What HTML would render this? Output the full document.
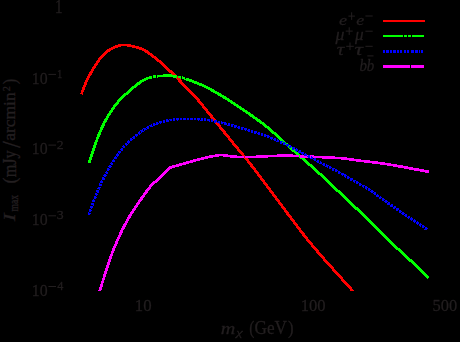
<!DOCTYPE html>
<html><head><meta charset="utf-8"><style>
html,body{margin:0;padding:0;background:#000;}
body{width:460px;height:342px;overflow:hidden;}
svg{display:block;}
text{font-family:"Liberation Serif",serif;fill:#231f20;stroke:#231f20;stroke-width:0.3px;}
</style></head><body>
<svg width="460" height="342" viewBox="0 0 460 342">
<rect width="460" height="342" fill="#000"/>
<g shape-rendering="crispEdges" stroke="none">
<path fill="#ff0000" d="M118 44h13v1h-13zM115 45h20v1h-20zM113 46h8v1h-8zM127 46h12v1h-12zM111 47h7v1h-7zM132 47h10v1h-10zM109 48h6v1h-6zM136 48h8v1h-8zM107 49h6v1h-6zM139 49h7v1h-7zM106 50h5v1h-5zM142 50h6v1h-6zM105 51h5v1h-5zM144 51h5v1h-5zM104 52h4v1h-4zM145 52h5v1h-5zM103 53h4v1h-4zM147 53h5v1h-5zM102 54h4v1h-4zM148 54h5v1h-5zM101 55h4v1h-4zM150 55h4v1h-4zM100 56h4v1h-4zM151 56h5v1h-5zM99 57h4v1h-4zM152 57h5v1h-5zM98 58h4v1h-4zM154 58h4v1h-4zM98 59h3v1h-3zM155 59h4v1h-4zM97 60h3v1h-3zM156 60h5v1h-5zM96 61h4v1h-4zM157 61h5v1h-5zM96 62h3v1h-3zM159 62h4v1h-4zM95 63h3v1h-3zM160 63h4v1h-4zM94 64h4v1h-4zM161 64h4v1h-4zM94 65h3v1h-3zM162 65h4v1h-4zM93 66h3v1h-3zM163 66h4v1h-4zM92 67h4v1h-4zM164 67h4v1h-4zM92 68h3v1h-3zM165 68h4v1h-4zM91 69h3v1h-3zM166 69h4v1h-4zM91 70h3v1h-3zM167 70h5v1h-5zM90 71h3v1h-3zM168 71h5v1h-5zM89 72h4v1h-4zM169 72h5v1h-5zM89 73h3v1h-3zM171 73h4v1h-4zM88 74h4v1h-4zM172 74h4v1h-4zM88 75h3v1h-3zM173 75h4v1h-4zM87 76h3v1h-3zM174 76h4v1h-4zM87 77h3v1h-3zM175 77h4v1h-4zM86 78h3v1h-3zM176 78h4v1h-4zM86 79h3v1h-3zM177 79h4v1h-4zM85 80h3v1h-3zM178 80h4v1h-4zM85 81h3v1h-3zM178 81h4v1h-4zM84 82h3v1h-3zM179 82h4v1h-4zM84 83h3v1h-3zM180 83h4v1h-4zM84 84h3v1h-3zM181 84h4v1h-4zM83 85h3v1h-3zM182 85h4v1h-4zM83 86h3v1h-3zM183 86h4v1h-4zM82 87h3v1h-3zM184 87h4v1h-4zM82 88h3v1h-3zM185 88h4v1h-4zM82 89h3v1h-3zM186 89h4v1h-4zM81 90h3v1h-3zM187 90h4v1h-4zM81 91h3v1h-3zM188 91h4v1h-4zM81 92h2v1h-2zM189 92h4v1h-4zM80 93h3v1h-3zM190 93h4v1h-4zM82 94h1v1h-1zM191 94h4v1h-4zM192 95h4v1h-4zM193 96h4v1h-4zM194 97h4v1h-4zM195 98h4v1h-4zM196 99h4v1h-4zM197 100h3v1h-3zM197 101h4v1h-4zM198 102h4v1h-4zM199 103h4v1h-4zM200 104h4v1h-4zM201 105h3v1h-3zM202 106h3v1h-3zM202 107h4v1h-4zM203 108h4v1h-4zM204 109h4v1h-4zM205 110h3v1h-3zM206 111h3v1h-3zM206 112h4v1h-4zM207 113h4v1h-4zM208 114h4v1h-4zM209 115h4v1h-4zM210 116h3v1h-3zM210 117h4v1h-4zM211 118h4v1h-4zM212 119h4v1h-4zM213 120h4v1h-4zM214 121h3v1h-3zM215 122h3v1h-3zM215 123h4v1h-4zM216 124h4v1h-4zM217 125h4v1h-4zM218 126h3v1h-3zM219 127h3v1h-3zM219 128h4v1h-4zM220 129h4v1h-4zM221 130h4v1h-4zM222 131h4v1h-4zM223 132h3v1h-3zM223 133h4v1h-4zM224 134h4v1h-4zM225 135h4v1h-4zM226 136h4v1h-4zM227 137h3v1h-3zM228 138h3v1h-3zM228 139h4v1h-4zM229 140h4v1h-4zM230 141h4v1h-4zM231 142h3v1h-3zM232 143h3v1h-3zM232 144h4v1h-4zM233 145h4v1h-4zM234 146h4v1h-4zM235 147h4v1h-4zM236 148h3v1h-3zM237 149h3v1h-3zM237 150h4v1h-4zM238 151h4v1h-4zM239 152h4v1h-4zM240 153h4v1h-4zM241 154h3v1h-3zM242 155h3v1h-3zM242 156h4v1h-4zM243 157h4v1h-4zM244 158h4v1h-4zM245 159h4v1h-4zM246 160h3v1h-3zM247 161h3v1h-3zM247 162h4v1h-4zM248 163h4v1h-4zM249 164h4v1h-4zM250 165h3v1h-3zM250 166h4v1h-4zM251 167h4v1h-4zM252 168h4v1h-4zM253 169h3v1h-3zM254 170h3v1h-3zM254 171h4v1h-4zM255 172h4v1h-4zM256 173h3v1h-3zM257 174h3v1h-3zM257 175h4v1h-4zM258 176h4v1h-4zM259 177h3v1h-3zM260 178h3v1h-3zM260 179h4v1h-4zM261 180h4v1h-4zM262 181h3v1h-3zM263 182h3v1h-3zM263 183h4v1h-4zM264 184h4v1h-4zM265 185h3v1h-3zM266 186h3v1h-3zM266 187h4v1h-4zM267 188h4v1h-4zM268 189h3v1h-3zM269 190h3v1h-3zM269 191h4v1h-4zM270 192h4v1h-4zM271 193h3v1h-3zM272 194h3v1h-3zM272 195h4v1h-4zM273 196h4v1h-4zM274 197h3v1h-3zM275 198h3v1h-3zM275 199h4v1h-4zM276 200h4v1h-4zM277 201h3v1h-3zM278 202h3v1h-3zM278 203h4v1h-4zM279 204h4v1h-4zM280 205h3v1h-3zM281 206h3v1h-3zM281 207h4v1h-4zM282 208h4v1h-4zM283 209h3v1h-3zM284 210h3v1h-3zM284 211h4v1h-4zM285 212h4v1h-4zM286 213h3v1h-3zM286 214h4v1h-4zM287 215h4v1h-4zM288 216h4v1h-4zM289 217h3v1h-3zM290 218h3v1h-3zM290 219h4v1h-4zM291 220h4v1h-4zM292 221h3v1h-3zM293 222h3v1h-3zM293 223h4v1h-4zM294 224h4v1h-4zM295 225h3v1h-3zM296 226h3v1h-3zM296 227h4v1h-4zM297 228h4v1h-4zM298 229h3v1h-3zM299 230h3v1h-3zM299 231h4v1h-4zM300 232h4v1h-4zM301 233h4v1h-4zM302 234h3v1h-3zM302 235h4v1h-4zM303 236h4v1h-4zM304 237h4v1h-4zM305 238h3v1h-3zM306 239h3v1h-3zM306 240h4v1h-4zM307 241h4v1h-4zM308 242h4v1h-4zM309 243h4v1h-4zM310 244h3v1h-3zM311 245h3v1h-3zM311 246h4v1h-4zM312 247h4v1h-4zM313 248h4v1h-4zM314 249h4v1h-4zM315 250h4v1h-4zM316 251h3v1h-3zM316 252h4v1h-4zM317 253h4v1h-4zM318 254h4v1h-4zM319 255h4v1h-4zM320 256h4v1h-4zM321 257h4v1h-4zM322 258h3v1h-3zM323 259h3v1h-3zM323 260h4v1h-4zM324 261h4v1h-4zM325 262h4v1h-4zM326 263h4v1h-4zM327 264h4v1h-4zM328 265h4v1h-4zM329 266h4v1h-4zM330 267h4v1h-4zM331 268h3v1h-3zM332 269h3v1h-3zM332 270h4v1h-4zM333 271h4v1h-4zM334 272h4v1h-4zM335 273h4v1h-4zM336 274h4v1h-4zM337 275h4v1h-4zM338 276h4v1h-4zM339 277h4v1h-4zM340 278h3v1h-3zM341 279h3v1h-3zM341 280h4v1h-4zM342 281h4v1h-4zM343 282h4v1h-4zM344 283h4v1h-4zM345 284h4v1h-4zM346 285h4v1h-4zM347 286h4v1h-4zM348 287h4v1h-4zM349 288h3v1h-3zM350 289h3v1h-3zM350 290h4v1h-4z"/>
<path fill="#00ff00" d="M163 74h9v1h-9zM153 75h3v1h-3zM157 75h20v1h-20zM149 76h3v1h-3zM153 76h3v1h-3zM157 76h20v1h-20zM178 76h3v1h-3zM182 76h1v1h-1zM146 77h6v1h-6zM153 77h3v1h-3zM157 77h1v1h-1zM173 77h4v1h-4zM178 77h3v1h-3zM182 77h3v1h-3zM144 78h8v1h-8zM180 78h1v1h-1zM182 78h3v1h-3zM186 78h3v1h-3zM142 79h6v1h-6zM184 79h8v1h-8zM140 80h6v1h-6zM186 80h8v1h-8zM139 81h5v1h-5zM189 81h8v1h-8zM137 82h5v1h-5zM192 82h7v1h-7zM136 83h5v1h-5zM194 83h8v1h-8zM135 84h5v1h-5zM197 84h7v1h-7zM134 85h4v1h-4zM199 85h7v1h-7zM132 86h5v1h-5zM202 86h6v1h-6zM131 87h5v1h-5zM204 87h6v1h-6zM130 88h4v1h-4zM206 88h6v1h-6zM129 89h4v1h-4zM208 89h6v1h-6zM128 90h4v1h-4zM210 90h5v1h-5zM127 91h4v1h-4zM211 91h6v1h-6zM126 92h4v1h-4zM213 92h6v1h-6zM124 93h5v1h-5zM215 93h6v1h-6zM123 94h5v1h-5zM217 94h5v1h-5zM122 95h4v1h-4zM218 95h6v1h-6zM121 96h4v1h-4zM220 96h6v1h-6zM120 97h4v1h-4zM222 97h5v1h-5zM119 98h4v1h-4zM223 98h6v1h-6zM118 99h4v1h-4zM225 99h5v1h-5zM117 100h4v1h-4zM227 100h5v1h-5zM117 101h3v1h-3zM228 101h5v1h-5zM116 102h3v1h-3zM230 102h5v1h-5zM115 103h4v1h-4zM231 103h5v1h-5zM114 104h4v1h-4zM233 104h5v1h-5zM113 105h4v1h-4zM234 105h5v1h-5zM113 106h3v1h-3zM236 106h5v1h-5zM112 107h3v1h-3zM237 107h5v1h-5zM111 108h4v1h-4zM239 108h5v1h-5zM111 109h3v1h-3zM240 109h5v1h-5zM110 110h3v1h-3zM242 110h5v1h-5zM109 111h4v1h-4zM243 111h5v1h-5zM109 112h3v1h-3zM245 112h5v1h-5zM108 113h3v1h-3zM246 113h5v1h-5zM107 114h4v1h-4zM248 114h5v1h-5zM107 115h3v1h-3zM249 115h5v1h-5zM106 116h3v1h-3zM250 116h5v1h-5zM106 117h3v1h-3zM252 117h5v1h-5zM105 118h3v1h-3zM253 118h5v1h-5zM104 119h4v1h-4zM255 119h5v1h-5zM104 120h3v1h-3zM256 120h5v1h-5zM103 121h4v1h-4zM257 121h5v1h-5zM103 122h3v1h-3zM259 122h5v1h-5zM102 123h3v1h-3zM260 123h5v1h-5zM102 124h3v1h-3zM262 124h4v1h-4zM101 125h4v1h-4zM263 125h4v1h-4zM101 126h3v1h-3zM264 126h5v1h-5zM100 127h4v1h-4zM265 127h5v1h-5zM100 128h3v1h-3zM267 128h4v1h-4zM100 129h3v1h-3zM268 129h4v1h-4zM99 130h3v1h-3zM269 130h4v1h-4zM99 131h3v1h-3zM270 131h4v1h-4zM98 132h3v1h-3zM271 132h5v1h-5zM98 133h3v1h-3zM272 133h5v1h-5zM97 134h4v1h-4zM274 134h4v1h-4zM97 135h3v1h-3zM275 135h4v1h-4zM97 136h3v1h-3zM276 136h4v1h-4zM96 137h3v1h-3zM277 137h4v1h-4zM96 138h3v1h-3zM278 138h4v1h-4zM96 139h2v1h-2zM279 139h4v1h-4zM95 140h3v1h-3zM280 140h4v1h-4zM95 141h3v1h-3zM281 141h4v1h-4zM94 142h3v1h-3zM282 142h4v1h-4zM94 143h3v1h-3zM283 143h5v1h-5zM94 144h3v1h-3zM284 144h5v1h-5zM93 145h3v1h-3zM286 145h4v1h-4zM93 146h3v1h-3zM287 146h4v1h-4zM93 147h3v1h-3zM288 147h4v1h-4zM92 148h3v1h-3zM289 148h4v1h-4zM92 149h3v1h-3zM290 149h5v1h-5zM92 150h3v1h-3zM291 150h5v1h-5zM91 151h3v1h-3zM292 151h5v1h-5zM91 152h3v1h-3zM294 152h4v1h-4zM91 153h3v1h-3zM295 153h4v1h-4zM90 154h3v1h-3zM296 154h4v1h-4zM90 155h3v1h-3zM297 155h4v1h-4zM90 156h3v1h-3zM298 156h4v1h-4zM89 157h3v1h-3zM299 157h5v1h-5zM89 158h3v1h-3zM300 158h5v1h-5zM89 159h3v1h-3zM302 159h4v1h-4zM88 160h3v1h-3zM303 160h4v1h-4zM88 161h3v1h-3zM304 161h4v1h-4zM88 162h3v1h-3zM305 162h4v1h-4zM306 163h4v1h-4zM307 164h5v1h-5zM308 165h5v1h-5zM310 166h4v1h-4zM311 167h4v1h-4zM312 168h4v1h-4zM313 169h4v1h-4zM314 170h4v1h-4zM315 171h4v1h-4zM316 172h4v1h-4zM317 173h5v1h-5zM318 174h5v1h-5zM320 175h4v1h-4zM321 176h4v1h-4zM322 177h4v1h-4zM323 178h4v1h-4zM324 179h4v1h-4zM325 180h4v1h-4zM326 181h4v1h-4zM327 182h4v1h-4zM328 183h4v1h-4zM329 184h4v1h-4zM330 185h4v1h-4zM331 186h4v1h-4zM332 187h4v1h-4zM333 188h4v1h-4zM334 189h4v1h-4zM335 190h5v1h-5zM336 191h5v1h-5zM338 192h4v1h-4zM339 193h4v1h-4zM340 194h4v1h-4zM341 195h4v1h-4zM342 196h4v1h-4zM343 197h4v1h-4zM344 198h4v1h-4zM345 199h4v1h-4zM346 200h4v1h-4zM347 201h4v1h-4zM348 202h4v1h-4zM349 203h4v1h-4zM350 204h4v1h-4zM351 205h4v1h-4zM352 206h4v1h-4zM353 207h5v1h-5zM354 208h5v1h-5zM355 209h5v1h-5zM357 210h4v1h-4zM358 211h4v1h-4zM359 212h4v1h-4zM360 213h4v1h-4zM361 214h4v1h-4zM362 215h4v1h-4zM363 216h4v1h-4zM364 217h4v1h-4zM365 218h4v1h-4zM366 219h4v1h-4zM367 220h4v1h-4zM368 221h4v1h-4zM369 222h4v1h-4zM370 223h4v1h-4zM371 224h4v1h-4zM372 225h4v1h-4zM373 226h4v1h-4zM374 227h4v1h-4zM375 228h4v1h-4zM376 229h4v1h-4zM377 230h4v1h-4zM378 231h4v1h-4zM379 232h4v1h-4zM380 233h4v1h-4zM381 234h4v1h-4zM382 235h4v1h-4zM383 236h4v1h-4zM384 237h4v1h-4zM385 238h4v1h-4zM386 239h4v1h-4zM387 240h4v1h-4zM388 241h4v1h-4zM389 242h4v1h-4zM390 243h4v1h-4zM391 244h4v1h-4zM392 245h4v1h-4zM393 246h4v1h-4zM394 247h4v1h-4zM395 248h5v1h-5zM396 249h5v1h-5zM398 250h4v1h-4zM399 251h4v1h-4zM400 252h4v1h-4zM401 253h4v1h-4zM402 254h4v1h-4zM403 255h4v1h-4zM404 256h4v1h-4zM405 257h4v1h-4zM406 258h4v1h-4zM407 259h5v1h-5zM408 260h5v1h-5zM409 261h5v1h-5zM411 262h4v1h-4zM412 263h4v1h-4zM413 264h4v1h-4zM414 265h4v1h-4zM415 266h4v1h-4zM416 267h4v1h-4zM417 268h4v1h-4zM418 269h4v1h-4zM419 270h4v1h-4zM420 271h4v1h-4zM421 272h4v1h-4zM422 273h4v1h-4zM423 274h4v1h-4zM424 275h4v1h-4zM425 276h4v1h-4zM426 277h3v1h-3zM427 278h1v1h-1z"/>
<path fill="#ff00ff" d="M215 154h13v1h-13zM277 154h16v1h-16zM209 155h28v1h-28zM256 155h43v1h-43zM300 155h14v1h-14zM205 156h14v1h-14zM223 156h21v1h-21zM245 156h54v1h-54zM300 156h35v1h-35zM201 157h12v1h-12zM230 157h14v1h-14zM245 157h23v1h-23zM300 157h47v1h-47zM197 158h11v1h-11zM322 158h32v1h-32zM193 159h11v1h-11zM341 159h20v1h-20zM190 160h10v1h-10zM349 160h21v1h-21zM186 161h10v1h-10zM356 161h22v1h-22zM183 162h10v1h-10zM364 162h21v1h-21zM179 163h10v1h-10zM372 163h19v1h-19zM176 164h10v1h-10zM380 164h17v1h-17zM172 165h10v1h-10zM387 165h16v1h-16zM169 166h10v1h-10zM393 166h15v1h-15zM168 167h7v1h-7zM398 167h15v1h-15zM167 168h5v1h-5zM404 168h15v1h-15zM166 169h4v1h-4zM409 169h15v1h-15zM165 170h4v1h-4zM414 170h15v1h-15zM164 171h4v1h-4zM420 171h9v1h-9zM163 172h4v1h-4zM425 172h4v1h-4zM162 173h4v1h-4zM161 174h4v1h-4zM160 175h4v1h-4zM159 176h4v1h-4zM158 177h4v1h-4zM157 178h4v1h-4zM156 179h4v1h-4zM155 180h4v1h-4zM153 181h5v1h-5zM152 182h5v1h-5zM151 183h4v1h-4zM150 184h4v1h-4zM149 185h4v1h-4zM149 186h3v1h-3zM148 187h3v1h-3zM147 188h4v1h-4zM146 189h4v1h-4zM145 190h4v1h-4zM145 191h3v1h-3zM144 192h4v1h-4zM143 193h4v1h-4zM143 194h3v1h-3zM142 195h3v1h-3zM141 196h4v1h-4zM140 197h4v1h-4zM140 198h3v1h-3zM139 199h4v1h-4zM138 200h4v1h-4zM138 201h3v1h-3zM137 202h3v1h-3zM136 203h4v1h-4zM136 204h3v1h-3zM135 205h3v1h-3zM134 206h4v1h-4zM134 207h3v1h-3zM133 208h3v1h-3zM132 209h4v1h-4zM132 210h3v1h-3zM131 211h3v1h-3zM130 212h4v1h-4zM130 213h3v1h-3zM129 214h3v1h-3zM128 215h4v1h-4zM128 216h3v1h-3zM127 217h4v1h-4zM127 218h3v1h-3zM126 219h3v1h-3zM126 220h3v1h-3zM125 221h3v1h-3zM125 222h3v1h-3zM124 223h3v1h-3zM123 224h4v1h-4zM123 225h3v1h-3zM122 226h4v1h-4zM122 227h3v1h-3zM121 228h4v1h-4zM121 229h3v1h-3zM120 230h3v1h-3zM120 231h3v1h-3zM119 232h4v1h-4zM119 233h3v1h-3zM119 234h3v1h-3zM118 235h3v1h-3zM118 236h3v1h-3zM117 237h3v1h-3zM117 238h3v1h-3zM116 239h3v1h-3zM116 240h3v1h-3zM115 241h3v1h-3zM115 242h3v1h-3zM115 243h3v1h-3zM114 244h3v1h-3zM114 245h3v1h-3zM113 246h3v1h-3zM113 247h3v1h-3zM112 248h3v1h-3zM112 249h3v1h-3zM112 250h3v1h-3zM111 251h3v1h-3zM111 252h3v1h-3zM111 253h2v1h-2zM110 254h3v1h-3zM110 255h3v1h-3zM109 256h3v1h-3zM109 257h3v1h-3zM109 258h3v1h-3zM108 259h3v1h-3zM108 260h3v1h-3zM108 261h3v1h-3zM107 262h3v1h-3zM107 263h3v1h-3zM107 264h3v1h-3zM106 265h3v1h-3zM106 266h3v1h-3zM106 267h3v1h-3zM105 268h3v1h-3zM105 269h3v1h-3zM105 270h3v1h-3zM104 271h3v1h-3zM104 272h3v1h-3zM104 273h3v1h-3zM103 274h3v1h-3zM103 275h3v1h-3zM103 276h3v1h-3zM103 277h2v1h-2zM102 278h3v1h-3zM102 279h3v1h-3zM102 280h2v1h-2zM101 281h3v1h-3zM101 282h3v1h-3zM101 283h2v1h-2zM100 284h3v1h-3zM100 285h3v1h-3zM100 286h3v1h-3zM99 287h3v1h-3zM99 288h3v1h-3zM99 289h3v1h-3zM98 290h3v1h-3z"/>
<path fill="#0000ff" d="M173 118h2v1h-2zM176 118h3v1h-3zM180 118h2v1h-2zM183 118h3v1h-3zM187 118h2v1h-2zM190 118h3v1h-3zM194 118h2v1h-2zM197 118h3v1h-3zM201 118h2v1h-2zM204 118h2v1h-2zM166 119h2v1h-2zM169 119h3v1h-3zM173 119h2v1h-2zM176 119h3v1h-3zM180 119h2v1h-2zM183 119h3v1h-3zM187 119h2v1h-2zM190 119h3v1h-3zM194 119h2v1h-2zM197 119h3v1h-3zM201 119h2v1h-2zM204 119h2v1h-2zM207 119h3v1h-3zM211 119h2v1h-2zM163 120h2v1h-2zM166 120h3v1h-3zM170 120h2v1h-2zM173 120h2v1h-2zM177 120h1v1h-1zM198 120h1v1h-1zM200 120h3v1h-3zM204 120h2v1h-2zM207 120h3v1h-3zM211 120h2v1h-2zM214 120h3v1h-3zM159 121h3v1h-3zM163 121h2v1h-2zM166 121h3v1h-3zM209 121h1v1h-1zM211 121h2v1h-2zM214 121h3v1h-3zM218 121h2v1h-2zM221 121h1v1h-1zM156 122h2v1h-2zM159 122h3v1h-3zM163 122h2v1h-2zM214 122h2v1h-2zM217 122h3v1h-3zM221 122h5v1h-5zM153 123h2v1h-2zM156 123h3v1h-3zM160 123h1v1h-1zM219 123h1v1h-1zM221 123h2v1h-2zM224 123h3v1h-3zM228 123h2v1h-2zM151 124h1v1h-1zM153 124h5v1h-5zM224 124h3v1h-3zM228 124h2v1h-2zM231 124h3v1h-3zM149 125h3v1h-3zM153 125h2v1h-2zM227 125h3v1h-3zM231 125h2v1h-2zM234 125h3v1h-3zM147 126h2v1h-2zM150 126h3v1h-3zM231 126h2v1h-2zM234 126h3v1h-3zM238 126h2v1h-2zM146 127h3v1h-3zM234 127h2v1h-2zM237 127h3v1h-3zM241 127h3v1h-3zM143 128h3v1h-3zM147 128h2v1h-2zM238 128h2v1h-2zM241 128h2v1h-2zM244 128h3v1h-3zM142 129h1v1h-1zM144 129h3v1h-3zM241 129h2v1h-2zM244 129h3v1h-3zM248 129h2v1h-2zM140 130h3v1h-3zM144 130h1v1h-1zM245 130h1v1h-1zM247 130h3v1h-3zM251 130h2v1h-2zM139 131h1v1h-1zM141 131h3v1h-3zM248 131h2v1h-2zM251 131h2v1h-2zM254 131h3v1h-3zM138 132h2v1h-2zM141 132h1v1h-1zM251 132h2v1h-2zM254 132h3v1h-3zM258 132h2v1h-2zM138 133h3v1h-3zM254 133h2v1h-2zM257 133h3v1h-3zM261 133h2v1h-2zM135 134h3v1h-3zM139 134h1v1h-1zM258 134h2v1h-2zM261 134h2v1h-2zM264 134h2v1h-2zM135 135h3v1h-3zM261 135h2v1h-2zM264 135h5v1h-5zM133 136h2v1h-2zM136 136h1v1h-1zM264 136h2v1h-2zM267 136h3v1h-3zM132 137h3v1h-3zM267 137h2v1h-2zM270 137h3v1h-3zM130 138h2v1h-2zM133 138h2v1h-2zM270 138h3v1h-3zM274 138h2v1h-2zM130 139h3v1h-3zM271 139h1v1h-1zM273 139h3v1h-3zM277 139h1v1h-1zM128 140h1v1h-1zM130 140h2v1h-2zM274 140h2v1h-2zM277 140h2v1h-2zM127 141h3v1h-3zM276 141h3v1h-3zM280 141h3v1h-3zM127 142h3v1h-3zM280 142h2v1h-2zM283 142h2v1h-2zM125 143h2v1h-2zM128 143h1v1h-1zM280 143h2v1h-2zM283 143h3v1h-3zM125 144h3v1h-3zM283 144h2v1h-2zM286 144h3v1h-3zM123 145h1v1h-1zM126 145h1v1h-1zM286 145h3v1h-3zM290 145h1v1h-1zM122 146h3v1h-3zM287 146h1v1h-1zM289 146h3v1h-3zM123 147h2v1h-2zM289 147h2v1h-2zM292 147h3v1h-3zM121 148h2v1h-2zM292 148h3v1h-3zM296 148h1v1h-1zM120 149h3v1h-3zM292 149h2v1h-2zM295 149h3v1h-3zM121 150h2v1h-2zM295 150h3v1h-3zM299 150h2v1h-2zM118 151h3v1h-3zM296 151h1v1h-1zM298 151h3v1h-3zM118 152h3v1h-3zM298 152h6v1h-6zM117 153h1v1h-1zM119 153h1v1h-1zM301 153h3v1h-3zM305 153h1v1h-1zM116 154h3v1h-3zM302 154h1v1h-1zM304 154h3v1h-3zM116 155h3v1h-3zM304 155h3v1h-3zM308 155h2v1h-2zM115 156h1v1h-1zM117 156h1v1h-1zM307 156h3v1h-3zM311 156h1v1h-1zM114 157h3v1h-3zM308 157h2v1h-2zM311 157h2v1h-2zM114 158h3v1h-3zM310 158h3v1h-3zM314 158h2v1h-2zM113 159h1v1h-1zM313 159h3v1h-3zM112 160h3v1h-3zM314 160h2v1h-2zM317 160h2v1h-2zM112 161h3v1h-3zM316 161h3v1h-3zM320 161h1v1h-1zM111 162h1v1h-1zM317 162h2v1h-2zM320 162h2v1h-2zM110 163h3v1h-3zM319 163h3v1h-3zM323 163h2v1h-2zM111 164h2v1h-2zM322 164h3v1h-3zM326 164h1v1h-1zM109 165h2v1h-2zM323 165h2v1h-2zM326 165h3v1h-3zM108 166h4v1h-4zM325 166h3v1h-3zM329 166h2v1h-2zM109 167h2v1h-2zM327 167h1v1h-1zM329 167h3v1h-3zM107 168h2v1h-2zM329 168h2v1h-2zM332 168h3v1h-3zM107 169h3v1h-3zM332 169h2v1h-2zM335 169h2v1h-2zM107 170h2v1h-2zM332 170h2v1h-2zM335 170h3v1h-3zM106 171h1v1h-1zM335 171h2v1h-2zM338 171h2v1h-2zM105 172h3v1h-3zM338 172h3v1h-3zM106 173h2v1h-2zM338 173h2v1h-2zM341 173h3v1h-3zM104 174h2v1h-2zM341 174h5v1h-5zM103 175h4v1h-4zM342 175h1v1h-1zM344 175h3v1h-3zM104 176h2v1h-2zM344 176h2v1h-2zM347 176h2v1h-2zM102 177h2v1h-2zM345 177h1v1h-1zM347 177h3v1h-3zM102 178h3v1h-3zM347 178h2v1h-2zM350 178h3v1h-3zM102 179h3v1h-3zM350 179h3v1h-3zM101 180h1v1h-1zM350 180h2v1h-2zM353 180h3v1h-3zM100 181h3v1h-3zM353 181h2v1h-2zM356 181h2v1h-2zM100 182h3v1h-3zM354 182h1v1h-1zM356 182h3v1h-3zM99 183h1v1h-1zM356 183h2v1h-2zM359 183h2v1h-2zM99 184h3v1h-3zM359 184h3v1h-3zM99 185h3v1h-3zM359 185h2v1h-2zM362 185h3v1h-3zM362 186h2v1h-2zM365 186h2v1h-2zM98 187h3v1h-3zM363 187h1v1h-1zM365 187h3v1h-3zM97 188h3v1h-3zM365 188h2v1h-2zM368 188h2v1h-2zM99 189h1v1h-1zM366 189h1v1h-1zM368 189h3v1h-3zM96 190h3v1h-3zM368 190h2v1h-2zM371 190h2v1h-2zM96 191h3v1h-3zM370 191h4v1h-4zM97 192h2v1h-2zM371 192h2v1h-2zM374 192h2v1h-2zM95 193h2v1h-2zM373 193h3v1h-3zM95 194h3v1h-3zM374 194h2v1h-2zM377 194h1v1h-1zM96 195h1v1h-1zM376 195h3v1h-3zM94 196h2v1h-2zM376 196h3v1h-3zM380 196h1v1h-1zM94 197h3v1h-3zM379 197h3v1h-3zM94 198h2v1h-2zM379 198h2v1h-2zM382 198h2v1h-2zM93 199h1v1h-1zM382 199h3v1h-3zM92 200h3v1h-3zM382 200h2v1h-2zM385 200h2v1h-2zM92 201h3v1h-3zM384 201h4v1h-4zM385 202h2v1h-2zM388 202h2v1h-2zM91 203h3v1h-3zM387 203h3v1h-3zM91 204h3v1h-3zM387 204h3v1h-3zM391 204h2v1h-2zM93 205h1v1h-1zM390 205h3v1h-3zM90 206h3v1h-3zM390 206h3v1h-3zM394 206h2v1h-2zM90 207h3v1h-3zM393 207h3v1h-3zM91 208h1v1h-1zM393 208h2v1h-2zM396 208h3v1h-3zM89 209h2v1h-2zM396 209h3v1h-3zM89 210h3v1h-3zM396 210h2v1h-2zM399 210h2v1h-2zM89 211h2v1h-2zM399 211h3v1h-3zM88 212h1v1h-1zM399 212h2v1h-2zM402 212h2v1h-2zM88 213h3v1h-3zM401 213h4v1h-4zM88 214h2v1h-2zM402 214h2v1h-2zM405 214h2v1h-2zM404 215h3v1h-3zM405 216h2v1h-2zM408 216h2v1h-2zM407 217h3v1h-3zM411 217h1v1h-1zM408 218h1v1h-1zM410 218h3v1h-3zM410 219h3v1h-3zM414 219h1v1h-1zM411 220h1v1h-1zM413 220h3v1h-3zM413 221h3v1h-3zM417 221h1v1h-1zM414 222h1v1h-1zM416 222h3v1h-3zM416 223h3v1h-3zM420 223h1v1h-1zM417 224h1v1h-1zM419 224h3v1h-3zM419 225h2v1h-2zM422 225h2v1h-2zM420 226h1v1h-1zM422 226h3v1h-3zM422 227h2v1h-2zM425 227h2v1h-2zM425 228h3v1h-3zM424 229h3v1h-3z"/>
<rect x="383" y="20" width="42" height="2" fill="#ff0000"/>
<path fill="#00ff00" d="M383 35h20v2h-20zM404 35h3v2h-3zM408 35h3v2h-3zM412 35h12v2h-12z"/>
<path fill="#0000ff" d="M383 50h2v3h-2zM386 50h3v3h-3zM390 50h2v3h-2zM393 50h3v3h-3zM397 50h2v3h-2zM400 50h2v3h-2zM404 50h2v3h-2zM407 50h2v3h-2zM411 50h3v3h-3zM415 50h3v3h-3zM419 50h1v3h-1zM421 50h2v3h-2z"/>
<path fill="#ff00ff" d="M383 65h27v3h-27zM411 65h13v3h-13z"/>
</g>
<g opacity="0.999">
<text transform="matrix(0.8640 0 0 1.0261 55.10 13.10)" font-size="17.5">1</text>
<text transform="matrix(0.9041 0 0 1.0043 31.74 83.77)" font-size="17.5">10</text>
<text transform="matrix(0.8941 0 0 0.9905 57.01 78.00)" font-size="12">1</text>
<text transform="matrix(0.9041 0 0 1.0043 31.74 154.47)" font-size="17.5">10</text>
<text transform="matrix(1.1487 0 0 0.9905 56.83 148.60)" font-size="12">2</text>
<text transform="matrix(0.9041 0 0 1.0043 31.74 225.17)" font-size="17.5">10</text>
<text transform="matrix(1.1487 0 0 0.9750 56.68 219.18)" font-size="12">3</text>
<text transform="matrix(0.9041 0 0 1.0043 31.74 295.87)" font-size="17.5">10</text>
<text transform="matrix(1.0182 0 0 0.9905 57.15 290.00)" font-size="12">4</text>
<text transform="matrix(0.9626 0 0 1.0043 134.76 310.77)" font-size="17.5">10</text>
<text transform="matrix(0.9492 0 0 1.0043 300.68 310.77)" font-size="17.5">100</text>
<text transform="matrix(0.9421 0 0 1.0043 432.46 310.77)" font-size="17.5">500</text>
<text transform="matrix(1.1862 0 0 0.9250 220.66 334.00)" font-size="17" font-style="italic">m</text>
<text transform="matrix(1.2235 0 0 0.9375 236.27 336.36)" font-size="12" font-style="italic">χ</text>
<text transform="matrix(0.9143 0 0 1.0667 249.21 333.73)" font-size="17">(</text>
<text transform="matrix(1.0120 0 0 1.0522 254.54 334.04)" font-size="17">GeV</text>
<text transform="matrix(0.9829 0 0 1.0754 287.91 333.84)" font-size="17">)</text>
<text transform="matrix(1.0717 0 0 0.8985 338.96 25.09)" font-size="17" font-style="italic">e</text>
<text transform="matrix(1.0566 0 0 0.8985 356.27 25.09)" font-size="17" font-style="italic">e</text>
<text transform="matrix(1.0500 0 0 0.9231 335.40 40.15)" font-size="17" font-style="italic">μ</text>
<text transform="matrix(1.0125 0 0 0.9231 355.10 40.15)" font-size="17" font-style="italic">μ</text>
<text transform="matrix(1.2320 0 0 0.9270 336.84 55.18)" font-size="17" font-style="italic">τ</text>
<text transform="matrix(1.3920 0 0 0.9270 354.58 55.18)" font-size="17" font-style="italic">τ</text>
<text transform="matrix(0.8814 0 0 1.0189 359.55 70.67)" font-size="17" font-style="italic">b</text>
<text transform="matrix(0.8814 0 0 1.0189 366.75 70.67)" font-size="17" font-style="italic">b</text>
</g>
<g transform="translate(15.4 221.3) rotate(-90)" opacity="0.999">
<text transform="matrix(1.3804 0 0 1.0067 0.00 -0.20)" font-size="17" font-style="italic">I</text>
<text transform="matrix(0.8099 0 0 0.9739 9.70 2.88)" font-size="12">max</text>
<text transform="matrix(1.0514 0 0 1.0797 37.71 0.49)" font-size="17">(</text>
<text transform="matrix(0.9543 0 0 1.0847 43.94 0.67)" font-size="17">mJy</text>
<text transform="matrix(1.3622 0 0 1.4593 73.50 4.22)" font-size="17">/</text>
<text transform="matrix(1.0249 0 0 0.9670 80.56 -0.02)" font-size="17">arcmin</text>
<text transform="matrix(0.8615 0 0 0.9143 130.17 -5.50)" font-size="12">2</text>
<text transform="matrix(0.9600 0 0 1.0885 137.12 0.59)" font-size="17">)</text>
</g>
<g fill="#231f20">
<rect x="48.40" y="73.90" width="7.60" height="1.00"/>
<rect x="48.40" y="144.60" width="7.60" height="1.00"/>
<rect x="48.40" y="215.30" width="7.60" height="1.00"/>
<rect x="48.40" y="286.00" width="7.60" height="1.00"/>
<rect x="348.40" y="15.60" width="6.50" height="1.00"/>
<rect x="351.15" y="12.30" width="1.00" height="7.60"/>
<rect x="345.70" y="30.60" width="7.00" height="1.00"/>
<rect x="348.70" y="27.30" width="1.00" height="7.60"/>
<rect x="346.20" y="45.80" width="7.60" height="1.00"/>
<rect x="349.50" y="42.50" width="1.00" height="7.60"/>
<rect x="365.40" y="15.50" width="7.30" height="1.00"/>
<rect x="365.40" y="30.70" width="7.30" height="1.00"/>
<rect x="365.40" y="45.80" width="7.30" height="1.00"/>
<rect x="367.30" y="55.40" width="6.20" height="1.00"/>
</g>
</svg>
</body></html>
